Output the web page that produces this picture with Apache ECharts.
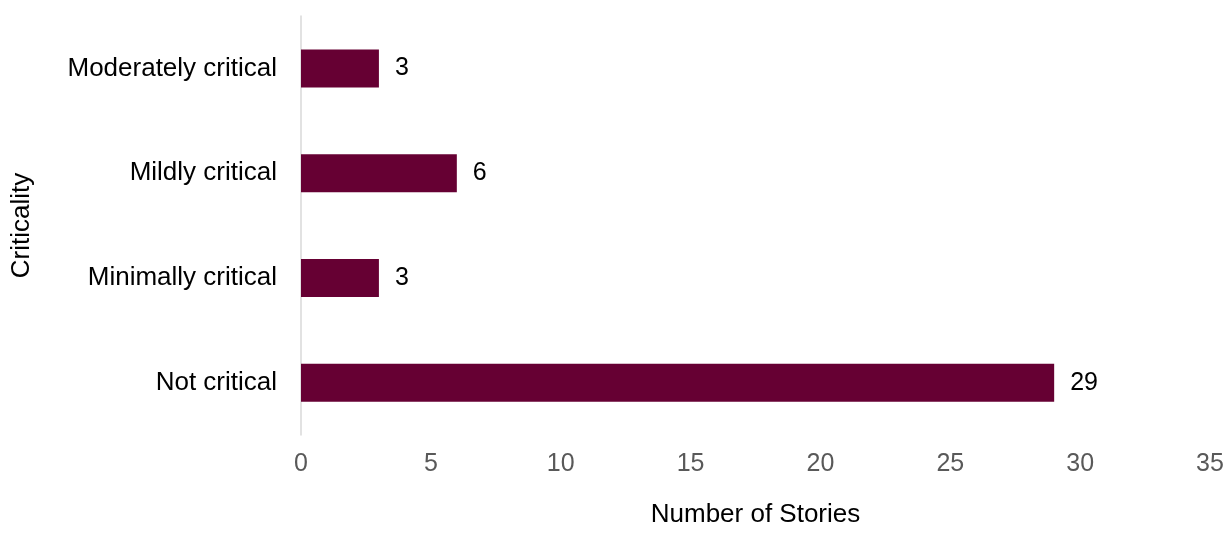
<!DOCTYPE html>
<html>
<head>
<meta charset="utf-8">
<script src="https://cdn.jsdelivr.net/npm/echarts@6/dist/echarts.min.js"></script>
<style>
  html, body { margin: 0; padding: 0; background: #fff; }
  #chart { width: 1231px; height: 533px; }
</style>
</head>
<body>
<div id="chart"></div>
<script>
// Story counts by criticality level (bottom to top)
const categories = ['Not critical', 'Minimally critical', 'Mildly critical', 'Moderately critical'];
const storyCounts = [29, 3, 6, 3];
const xTicks = { min: 0, max: 35, interval: 5 };

const FONT = 'Liberation Sans, Arial, sans-serif';
const chart = echarts.init(document.getElementById('chart'), null, { renderer: 'canvas' });

chart.setOption({
  animation: false,
  backgroundColor: '#ffffff',
  grid: { left: 301, right: 21, top: 16, bottom: 92, containLabel: false },
  xAxis: {
    type: 'value',
    min: xTicks.min,
    max: xTicks.max,
    interval: xTicks.interval,
    name: 'Number of Stories',
    nameLocation: 'middle',
    nameGap: 67,
    nameTextStyle: { fontFamily: FONT, fontSize: 26, color: '#000' },
    axisLine: { show: false },
    axisTick: { show: false },
    splitLine: { show: false },
    axisLabel: { fontFamily: FONT, fontSize: 25, color: '#595959', margin: 17 }
  },
  yAxis: {
    type: 'category',
    data: categories,
    name: 'Criticality',
    nameLocation: 'middle',
    nameGap: 266,
    nameTextStyle: { fontFamily: FONT, fontSize: 26, color: '#000' },
    axisLine: { show: true, lineStyle: { color: '#d9d9d9', width: 1.5 } },
    axisTick: { show: false },
    axisLabel: { fontFamily: FONT, fontSize: 26, color: '#000', margin: 24 }
  },
  series: [{
    type: 'bar',
    data: storyCounts,
    barWidth: 38,
    itemStyle: { color: '#660033' },
    label: {
      show: true,
      position: 'right',
      distance: 16,
      fontFamily: FONT,
      fontSize: 25,
      color: '#000'
    }
  }]
});
</script>
</body>
</html>
